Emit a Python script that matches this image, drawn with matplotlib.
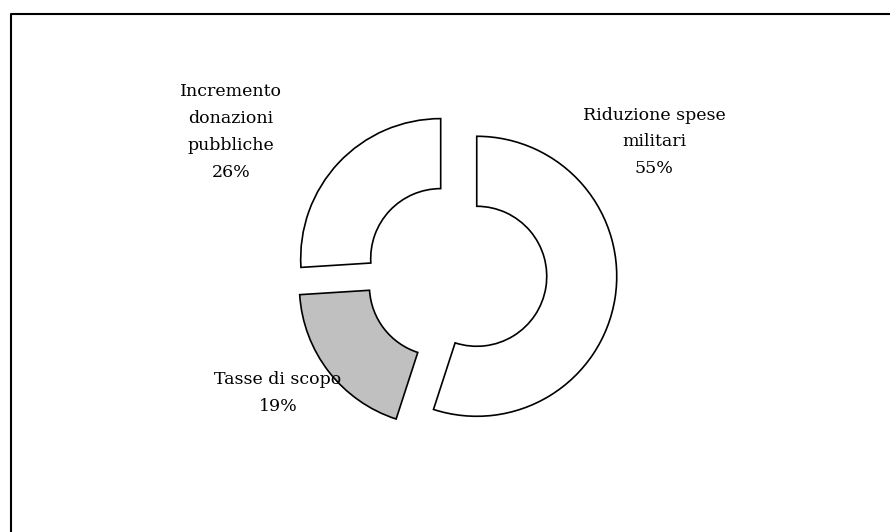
#!/bin/env python3

import matplotlib
matplotlib.use("Agg")
import matplotlib.pyplot as plt
from   matplotlib.lines import Line2D

# slices, clockwise from 12 o'clock
categories = ["Riduzione spese\nmilitari", "Tasse di scopo", "Incremento\ndonazioni\npubbliche"]
shares     = [55, 19, 26]

fill_colors = ["white", "#C0C0C0", "white"]
label_pos   = [(654, 142), (278, 393), (231, 132)]   # pixels, y measured from top

W, H = 890, 532

def plot_donut() -> int:
    """draw the exploded donut"""

    plt.rcParams['font.family'] = ['DejaVu Serif']

    fig = plt.figure(figsize=(W / 100, H / 100), dpi=100)
    axe = fig.add_axes([0, 0, 1, 1])

    axe.pie(shares, colors=fill_colors, startangle=90, counterclock=False,
            radius=140, center=(456, H - 273), explode=[21] * len(shares),
            wedgeprops=dict(width=70, edgecolor="black", linewidth=1.2))

    axe.set_xlim(0, W)
    axe.set_ylim(0, H)
    axe.set_aspect('auto')
    axe.axis('off')

    for cat, share, (x, y) in zip(categories, shares, label_pos):
        axe.text(x, H - y, f"{cat}\n{share}%", ha='center', va='center',
                 fontsize=12.5, linespacing=1.75, zorder=5)

    # chart frame (right and bottom run off the picture)
    fx = 10.5 / W
    fy = 1 - 13.5 / H
    fig.add_artist(Line2D([fx, fx, 1.01], [-0.01, fy, fy], color="black", linewidth=1.5))

    plt.savefig("out.png", dpi=100)

    return 0

if __name__ == "__main__":
    plot_donut()
